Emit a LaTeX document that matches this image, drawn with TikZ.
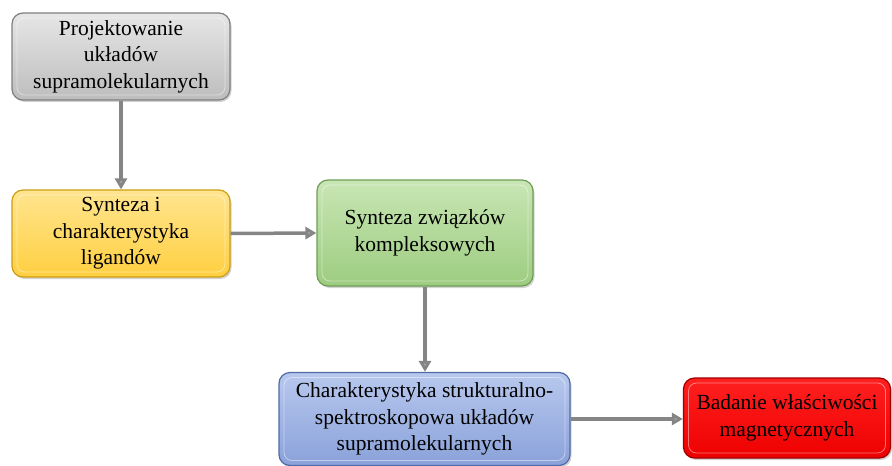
\documentclass[tikz,border=0pt]{standalone}
\usepackage{fontspec}
\setmainfont{Liberation Serif}
\usetikzlibrary{arrows.meta,shadows}
\definecolor{grayA}{HTML}{E6E6E6}\definecolor{grayB}{HTML}{BDBDBD}\definecolor{grayD}{HTML}{7F7F7F}
\definecolor{yelA}{HTML}{FFE58F}\definecolor{yelB}{HTML}{FFCF40}\definecolor{yelD}{HTML}{CC9E14}
\definecolor{grnA}{HTML}{C8E6B4}\definecolor{grnB}{HTML}{9DCC80}\definecolor{grnD}{HTML}{6E9E55}
\definecolor{bluA}{HTML}{B8C8EE}\definecolor{bluB}{HTML}{8AA2DA}\definecolor{bluD}{HTML}{506AA8}
\definecolor{redA}{HTML}{FF2020}\definecolor{redB}{HTML}{EE0000}\definecolor{redD}{HTML}{A00000}
\definecolor{arrowgray}{HTML}{858585}
\tikzset{
  flowbox/.style={rounded corners=11pt, line width=1.2pt, align=center,
    font=\fontsize{21.5}{26.5}\selectfont, inner sep=2pt,
    drop shadow={shadow xshift=1.5pt,shadow yshift=-2pt,opacity=0.35},
    path picture={\draw[white,opacity=0.45,line width=0.8pt,rounded corners=8pt]
      ([shift={(5pt,-5pt)}]path picture bounding box.north west) rectangle
      ([shift={(-5pt,5pt)}]path picture bounding box.south east);}},
  graybox/.style={flowbox, draw=grayD, top color=grayA, bottom color=grayB},
  yelbox/.style={flowbox, draw=yelD, top color=yelA, bottom color=yelB},
  grnbox/.style={flowbox, draw=grnD, top color=grnA, bottom color=grnB},
  blubox/.style={flowbox, draw=bluD, top color=bluA, bottom color=bluB},
  redbox/.style={flowbox, draw=redD, top color=redA, bottom color=redB},
  flowarrow/.style={draw=arrowgray, line width=3.5pt,
    -{Triangle[length=11pt,width=12pt,fill=arrowgray!75]}}
}
\begin{document}
\begin{tikzpicture}[x=1pt,y=-1pt]
\useasboundingbox (0,0) rectangle (892,466);
\node[graybox, minimum width=218pt, minimum height=87pt] (proj) at (121,56.5)
  {Projektowanie\\układów\\supramolekularnych};
\node[yelbox, minimum width=218pt, minimum height=87pt] (lig) at (121,233.5)
  {Synteza i\\charakterystyka\\ligandów};
\node[grnbox, minimum width=216pt, minimum height=106pt] (kom) at (425,233)
  {Synteza związków\\kompleksowych};
\node[blubox, minimum width=291pt, minimum height=93pt] (char) at (424.5,419)
  {Charakterystyka strukturalno-\\spektroskopowa układów\\supramolekularnych};
\node[redbox, minimum width=207pt, minimum height=80pt] (mag) at (787,418)
  {Badanie właściwości\\magnetycznych};
\draw[flowarrow] (proj.south) -- (lig.north);
\draw[flowarrow] (lig.east) -- (kom.west);
\draw[flowarrow] (kom.south) -- (kom.south |- char.north);
\draw[flowarrow] (char.east) -- (char.east -| mag.west);
\end{tikzpicture}
\end{document}
